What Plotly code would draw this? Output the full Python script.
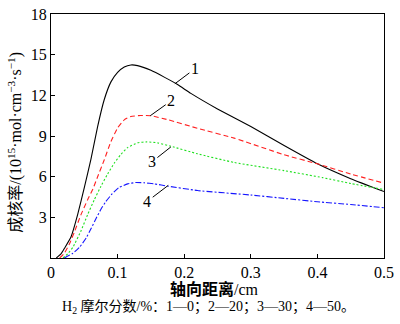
import plotly.graph_objects as go

# Data
x1 = [0.008, 0.015, 0.02, 0.03, 0.04, 0.05, 0.06, 0.07, 0.08, 0.09, 0.1, 0.11, 0.12, 0.13, 0.15, 0.17, 0.19, 0.21, 0.25, 0.3, 0.35, 0.4, 0.45, 0.5]
y1 = [0.0, 0.3, 0.7, 1.55, 3.2, 5.2, 7.3, 9.7, 11.7, 13.0, 13.7, 14.1, 14.25, 14.2, 13.85, 13.35, 12.8, 12.15, 11.0, 9.7, 8.3, 6.95, 5.85, 4.9]

x2 = [0.013, 0.02, 0.028, 0.035, 0.045, 0.055, 0.063, 0.07, 0.08, 0.09, 0.1, 0.11, 0.12, 0.135, 0.15, 0.176, 0.22, 0.275, 0.35, 0.4, 0.45, 0.5]
y2 = [0.0, 0.35, 1.07, 1.9, 3.2, 4.3, 5.1, 6.0, 7.25, 8.6, 9.6, 10.2, 10.45, 10.52, 10.5, 10.2, 9.57, 8.85, 7.62, 6.95, 6.2, 5.52]

x3 = [0.018, 0.025, 0.033, 0.045, 0.055, 0.065, 0.075, 0.085, 0.095, 0.105, 0.115, 0.13, 0.144, 0.16, 0.18, 0.22, 0.275, 0.35, 0.408, 0.45, 0.5]
y3 = [0.0, 0.3, 0.8, 2.0, 3.2, 4.3, 5.3, 6.2, 7.0, 7.65, 8.15, 8.5, 8.57, 8.5, 8.25, 7.69, 7.05, 6.45, 5.93, 5.5, 5.05]

x4 = [0.02, 0.033, 0.043, 0.053, 0.06, 0.068, 0.075, 0.082, 0.092, 0.102, 0.115, 0.127, 0.14, 0.155, 0.176, 0.22, 0.3, 0.35, 0.4, 0.45, 0.5]
y4 = [0.0, 0.35, 0.8, 1.5, 2.15, 2.95, 3.6, 4.14, 4.75, 5.2, 5.47, 5.57, 5.55, 5.47, 5.3, 4.98, 4.65, 4.4, 4.15, 3.95, 3.71]

series_names = ["1", "2", "3", "4"]
series_colors = ["#000000", "#ff2020", "#20e020", "#1515ff"]
series_dash = ["solid", "5px,3px", "2px,2px", "6px,2px,2px,2px"]

x_ticks = [0, 0.1, 0.2, 0.3, 0.4, 0.5]
x_ticktext = ["0", "0.1", "0.2", "0.3", "0.4", "0.5"]
y_ticks = [3, 6, 9, 12, 15, 18]

# label anchor points on curves and offsets (px)
label_pts = [(0.186, 12.86, 20, -15), (0.149, 10.5, 21, -15), (0.18, 8.2, -19, 15), (0.176, 5.36, -21, 16)]

SERIF = "Liberation Serif, Times New Roman, Noto Sans CJK SC, serif"

fig = go.Figure()
for xs, ys, name, c, d in zip([x1, x2, x3, x4], [y1, y2, y3, y4], series_names, series_colors, series_dash):
    fig.add_trace(go.Scatter(x=xs, y=ys, mode="lines", name=name,
                             line=dict(color=c, width=1.1, dash=d, shape="spline", smoothing=0.4)))

for (lx, ly, ax, ay), name in zip(label_pts, series_names):
    fig.add_annotation(x=lx, y=ly, xref="x", yref="y", text=name, showarrow=True,
                       arrowhead=0, arrowwidth=1, arrowcolor="black", ax=ax, ay=ay,
                       font=dict(family=SERIF, size=16, color="black"), standoff=0)

fig.add_annotation(x=-0.109, y=0.475, xref="paper", yref="paper", xanchor="center", yanchor="middle",
                   text="成核率/(10<sup>15</sup>·mol·cm<sup>−3</sup>·s<sup>−1</sup>)",
                   textangle=-90, showarrow=False,
                   font=dict(family=SERIF, size=16, color="black"))
fig.add_annotation(x=0.49, y=-0.125, xref="paper", yref="paper", xanchor="center", yanchor="middle",
                   text="<b>轴向距离</b>/cm", showarrow=False,
                   font=dict(family=SERIF, size=16, color="black"))
fig.add_annotation(x=0.472, y=-0.2, xref="paper", yref="paper", xanchor="center", yanchor="middle",
                   text="H<sub>2</sub> 摩尔分数/%：1—0；2—20；3—30；4—50。", showarrow=False,
                   font=dict(family=SERIF, size=14, color="black"))

fig.update_layout(
    width=400, height=324,
    margin=dict(l=51, r=10, t=6, b=66),
    paper_bgcolor="white", plot_bgcolor="white",
    showlegend=False,
    font=dict(family=SERIF, size=16, color="black"),
)
fig.update_xaxes(range=[0, 0.5], tickvals=x_ticks, ticktext=x_ticktext, ticks="inside", ticklen=4,
                 tickcolor="black", showline=True, linecolor="black", linewidth=1, mirror=True,
                 showgrid=False, zeroline=False, tickfont=dict(family=SERIF, size=16),
                 ticklabeloverflow="allow")
fig.update_yaxes(range=[0, 18.01], tickvals=y_ticks, ticks="inside", ticklen=4,
                 tickcolor="black", showline=True, linecolor="black", linewidth=1, mirror=True,
                 showgrid=False, zeroline=False, tickfont=dict(family=SERIF, size=16),
                 ticklabeloverflow="allow")

fig.write_html("out.html")
